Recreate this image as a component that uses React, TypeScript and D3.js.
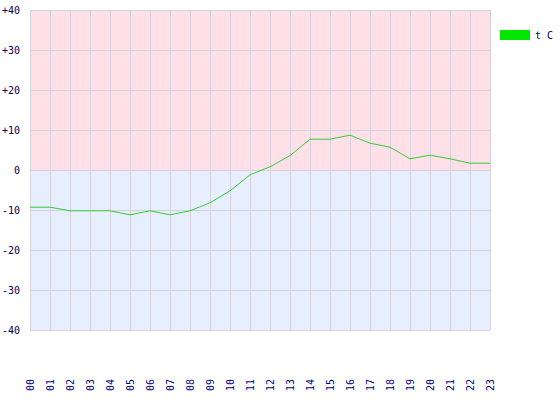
import React from "react";
import * as d3 from "d3";

const hours = ["00","01","02","03","04","05","06","07","08","09","10","11","12","13","14","15","16","17","18","19","20","21","22","23"];
const temps = [-9.3,-9.3,-10.2,-10.2,-10.2,-11.2,-10.2,-11.2,-10.2,-8.2,-5.2,-1.2,0.8,3.6,7.7,7.7,8.7,6.7,5.7,2.8,3.7,2.8,1.7,1.7];
const yTicks = [40,30,20,10,0,-10,-20,-30,-40];
const seriesName = "t C";

const W = 560, H = 400;
const left = 30, right = 490, top = 10, bottom = 330;

export default function App() {
  const x = d3.scalePoint<string>().domain(hours).range([left, right]);
  const y = d3.scaleLinear().domain([-40, 40]).range([bottom, top]);
  const line = d3.line<number>().x((_, i) => x(hours[i]) as number).y(d => y(d));
  const font = "'DejaVu Sans Mono', monospace";
  const label = (v: number) => (v > 0 ? "+" + v : String(v));
  return (
    <svg width={W} height={H} style={{ position: "absolute", left: 0, top: 0, background: "#fff" }}>
      <rect x={left} y={y(40)} width={right - left} height={y(0) - y(40)} fill="#FFDFE8" />
      <rect x={left} y={y(0)} width={right - left} height={y(-40) - y(0)} fill="#E6EEFF" />
      {hours.map(h => (
        <line key={"v" + h} x1={(x(h) as number) + 0.5} x2={(x(h) as number) + 0.5} y1={top} y2={bottom} stroke="#D6D2DC" />
      ))}
      {yTicks.map(t => (
        <line key={"h" + t} x1={left} x2={right} y1={y(t) + 0.5} y2={y(t) + 0.5} stroke="#D6D2DC" />
      ))}
      <path d={line(temps) || ""} fill="none" stroke="#33CC33" strokeWidth={1} />
      {yTicks.map(t => (
        <text key={"yl" + t} x={20} y={y(t)} dy="0.35em" textAnchor="end" fontFamily={font} fontSize={10} fill="#000066">
          {label(t)}
        </text>
      ))}
      {hours.map(h => (
        <text key={"xl" + h} transform={`translate(${(x(h) as number) + 4},391) rotate(-90)`} textAnchor="start" fontFamily={font} fontSize={10} fill="#000080">
          {h}
        </text>
      ))}
      <rect x={500} y={30} width={30} height={10} fill="#00E600" />
      <text x={535} y={39} fontFamily={font} fontSize={10} fill="#000066">{seriesName}</text>
    </svg>
  );
}
